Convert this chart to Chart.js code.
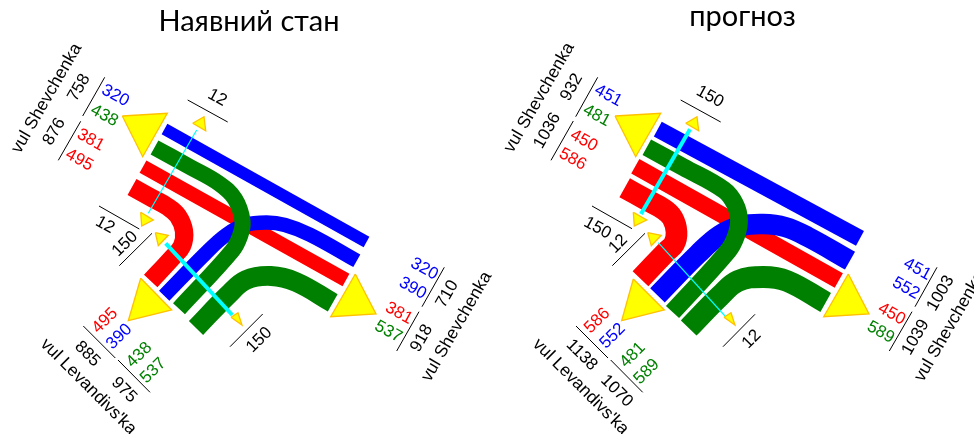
<!DOCTYPE html>
<html>
<head>
<meta charset="utf-8">
<title>Наявний стан / прогноз</title>
<script src="https://cdn.jsdelivr.net/npm/chart.js@4"></script>
<style>
html, body { margin: 0; padding: 0; background: #fff; overflow: hidden; }
canvas { display: block; }
</style>
</head>
<body>
<canvas id="myChart" width="974" height="434"></canvas>
<script>
// flows per band, the band width follows the flow
const nowFlows = { blueA: 320, blueB: 390, redA: 381, redB: 495, greenA: 438, greenB: 537 };
const nextFlows = { blueA: 451, blueB: 552, redA: 450, redB: 586, greenA: 481, greenB: 589 };
const widthPerFlow = 0.037;

// band paths
const nowBlueA = [[164.5,129],[366.5,242]];
const nowRedA = [[143,166.7],[346,280]];
const nowRedB = [[132,187],[150,197],[168,207],[178,216],[184,231],[182,246],[172,258],[150.7,281]];
const nowBlueB = [[164.2,295.8],[205,254],[226,235],[245,225],[266.7,222.5],[285,225],[310,234.7],[356.8,260.8]];
const nowGreenA = [[154.5,147.5],[190,167],[219,183.5],[235,199],[242.5,221],[240,236],[232,251],[179,308.7]];
const nowGreenB = [[196,328],[228,295],[246,280],[271,276],[296,282],[332.7,302.8]];

const nextBlueA = [[657.8,129.2],[860,238.3]];
const nextRedA = [[635.3,166.3],[838.8,280.5]];
const nextRedB = [[624.7,187.7],[645,199],[664,209.5],[672.5,218],[676.5,232],[674,244],[666,252],[640.5,278.7]];
const nextBlueB = [[657.5,295.3],[698,254],[720,235],[741,226],[763,224],[785,227],[808,237],[850,260.7]];
const nextGreenA = [[646.8,147.2],[683,167],[724,190],[735,204],[739,220],[736,236],[728,251],[672.5,312]];
const nextGreenB = [[688.7,328],[720,296],[738,281],[763.3,277],[787,281],[825.7,302.5]];

const bigTriangles = [
    [[122.3,116],[167.3,113.3],[142.7,156.7]],
    [[140.7,278.3],[171.7,310],[128.3,320.7]],
    [[355.3,274],[376,314],[330.7,316.7]],
    [[615,116],[660.7,113.3],[635.7,156.7]],
    [[633.3,279],[664.3,310],[621.7,320.7]],
    [[848.3,274],[869,314],[823.7,316.7]],
];
const smallTriangles = [
    [[192.7,123.3],[204,116.7],[205.7,130.7]],
    [[140.7,212.3],[153.3,220],[141.7,226]],
    [[155.3,232.7],[168.3,235.3],[158.3,245.7]],
    [[231,317.3],[238,312.7],[242,325]],
    [[685.7,123.3],[697,116.7],[698.7,130.7]],
    [[633.3,212.3],[646.7,220],[634.3,226]],
    [[647.7,232.7],[661.3,235.3],[651.3,245.7]],
    [[724,317.3],[731,312.7],[735,325]],
];
const thinCyan = [[[196.7,130],[148.3,213.3]], [[658.3,242.7],[725,316]]];
const thickCyan = [[[165.7,243.3],[232.3,315]], [[690,129.3],[641,214]]];
const tickLines = [
    [[104.7,77.3],[82.7,116]], [[80.7,121.3],[58.3,160.3]],
    [[187.7,100],[227.7,122]], [[99,206],[139.3,229]],
    [[152,233.3],[119.3,265.7]], [[83.3,326],[115.3,358]],
    [[118,360],[150,392.3]], [[262.7,314],[230,346.7]],
    [[444.3,267.3],[422,306.7]], [[419,311.7],[396.7,351]],
    [[597.7,77.3],[575.7,116.7]], [[573.3,121],[551,160.3]],
    [[680.7,100],[720.7,122]], [[592,206],[632,228.7]],
    [[645,233.3],[612.3,265.7]], [[576,326],[608,358]],
    [[610.7,360],[642.7,392.3]], [[755,314.3],[723,346.7]],
    [[937,267.3],[915,306.7]], [[912,311.7],[889.3,351]],
];

// text: value, x, y, angle, colour
const streetShevchenka = "vul Shevchenka";
const streetLevandivska = "vul Levandivs'ka";
const titleLabels = [["Наявний стан", 249, 22], ["прогноз", 742.5, 17]];
const numberLabels = [
    ["320",115.3,95.7,29,"blue"], ["438",104.3,115.7,29,"green"], ["381",90.7,140,29,"red"], ["495",79.3,160,29,"red"],
    ["758",79,87.7,-60,"black"], ["876",54.3,131.7,-60,"black"],
    ["495",105,320.7,-45,"red"], ["390",119.3,336.7,-45,"blue"], ["438",139.3,355,-45,"green"], ["537",153.3,370.7,-45,"green"],
    ["885",87.3,354,45,"black"], ["975",124,390,45,"black"],
    ["320",424.3,269,29,"blue"], ["390",412.7,288.3,29,"blue"], ["381",399,313.3,29,"red"], ["537",388.3,331.7,29,"green"],
    ["710",447.3,294,-60,"black"], ["918",421.7,338.3,-60,"black"],
    ["12",217.3,97.7,29,"black"], ["12",105,225,29,"black"], ["150",125,244,-45,"black"], ["150",259.3,340,-45,"black"],
    ["451",608.3,95.7,29,"blue"], ["481",596.7,115.7,29,"green"], ["450",584,140.7,29,"red"], ["586",572.7,159.3,29,"red"],
    ["932",571.7,87.3,-60,"black"], ["1036",547.3,130.7,-60,"black"],
    ["586",597.3,320.7,-45,"red"], ["552",612.7,336,-45,"blue"], ["481",632.7,355,-45,"green"], ["589",646.7,371.7,-45,"green"],
    ["1138",581.7,355,45,"black"], ["1070",616.7,391,45,"black"],
    ["451",917.3,269.3,29,"blue"], ["552",906,288.3,29,"blue"], ["450",891.7,314,29,"red"], ["589",880.7,332.3,29,"green"],
    ["1003",940.7,293.3,-60,"black"], ["1039",915.7,337.3,-60,"black"],
    ["150",710,96.7,29,"black"], ["150",597.5,228,29,"black"], ["12",618.3,244,-45,"black"], ["12",751.7,339.3,-45,"black"],
];
const streetLabels = [
    [streetShevchenka,46.7,98.3,-60], [streetLevandivska,88.3,386.7,45], [streetShevchenka,456.7,326.7,-60],
    [streetShevchenka,539.3,97.7,-60], [streetLevandivska,580.7,386.7,45], [streetShevchenka,949.7,326.7,-60],
];

const toPoints = (path) => path.map(([x, y]) => ({ x, y }));

const band = (path, flow, color) => ({
    data: toPoints(path),
    showLine: true,
    borderColor: color,
    borderWidth: flow * widthPerFlow,
    borderCapStyle: "butt",
    borderJoinStyle: "round",
    tension: path.length > 2 ? 0.4 : 0,
    pointRadius: 0,
});

const triangle = (path) => ({
    data: toPoints(path.concat([path[0]])),
    showLine: true,
    fill: "shape",
    backgroundColor: "#FFFF00",
    borderColor: "#FFC000",
    borderWidth: 1.3,
    tension: 0,
    pointRadius: 0,
});

const line = (path, color, width) => ({
    data: toPoints(path),
    showLine: true,
    borderColor: color,
    borderWidth: width,
    borderCapStyle: "butt",
    tension: 0,
    pointRadius: 0,
});

// written bottom to top, Chart.js paints the first dataset last
const datasets = [
    band(nowRedA, nowFlows.redA, "#FF0000"),
    band(nowRedB, nowFlows.redB, "#FF0000"),
    band(nowBlueA, nowFlows.blueA, "#0000FF"),
    band(nowBlueB, nowFlows.blueB, "#0000FF"),
    band(nowGreenA, nowFlows.greenA, "#008000"),
    band(nowGreenB, nowFlows.greenB, "#008000"),
    band(nextRedA, nextFlows.redA, "#FF0000"),
    band(nextRedB, nextFlows.redB, "#FF0000"),
    band(nextBlueA, nextFlows.blueA, "#0000FF"),
    band(nextBlueB, nextFlows.blueB, "#0000FF"),
    band(nextGreenA, nextFlows.greenA, "#008000"),
    band(nextGreenB, nextFlows.greenB, "#008000"),
    ...bigTriangles.map(triangle),
    ...smallTriangles.map(triangle),
    ...thinCyan.map((p) => line(p, "#00FFFF", 1.2)),
    ...thickCyan.map((p) => line(p, "#00FFFF", 4)),
    ...tickLines.map((p) => line(p, "#000000", 1)),
].reverse();

// the library has no rotated free text, so draw it through the scales
const diagramText = {
    id: "diagramText",
    afterDatasetsDraw(chart) {
        const { ctx, scales } = chart;
        const put = (text, x, y, angle, color, font) => {
            ctx.save();
            ctx.translate(scales.x.getPixelForValue(x), scales.y.getPixelForValue(y));
            ctx.rotate(angle * Math.PI / 180);
            ctx.textAlign = "center";
            ctx.textBaseline = "middle";
            ctx.fillStyle = color;
            ctx.font = font;
            ctx.fillText(text, 0, 0);
            ctx.restore();
        };
        titleLabels.forEach(([t, x, y]) => put(t, x, y, 0, "#000", "29px Lato, 'Open Sans', sans-serif"));
        numberLabels.forEach(([t, x, y, a, c]) => put(t, x, y, a, c, "17px 'Liberation Sans', sans-serif"));
        streetLabels.forEach(([t, x, y, a]) => put(t, x, y, a, "#000", "17.5px 'Liberation Sans', sans-serif"));
    },
};

new Chart(document.getElementById("myChart").getContext("2d"), {
    type: "scatter",
    data: { datasets },
    plugins: [diagramText],
    options: {
        responsive: false,
        animation: false,
        layout: { padding: 0 },
        plugins: { legend: { display: false }, tooltip: { enabled: false } },
        scales: {
            x: { type: "linear", min: 0, max: 974, display: false },
            y: { type: "linear", min: 0, max: 434, reverse: true, display: false },
        },
    },
});
</script>
</body>
</html>
